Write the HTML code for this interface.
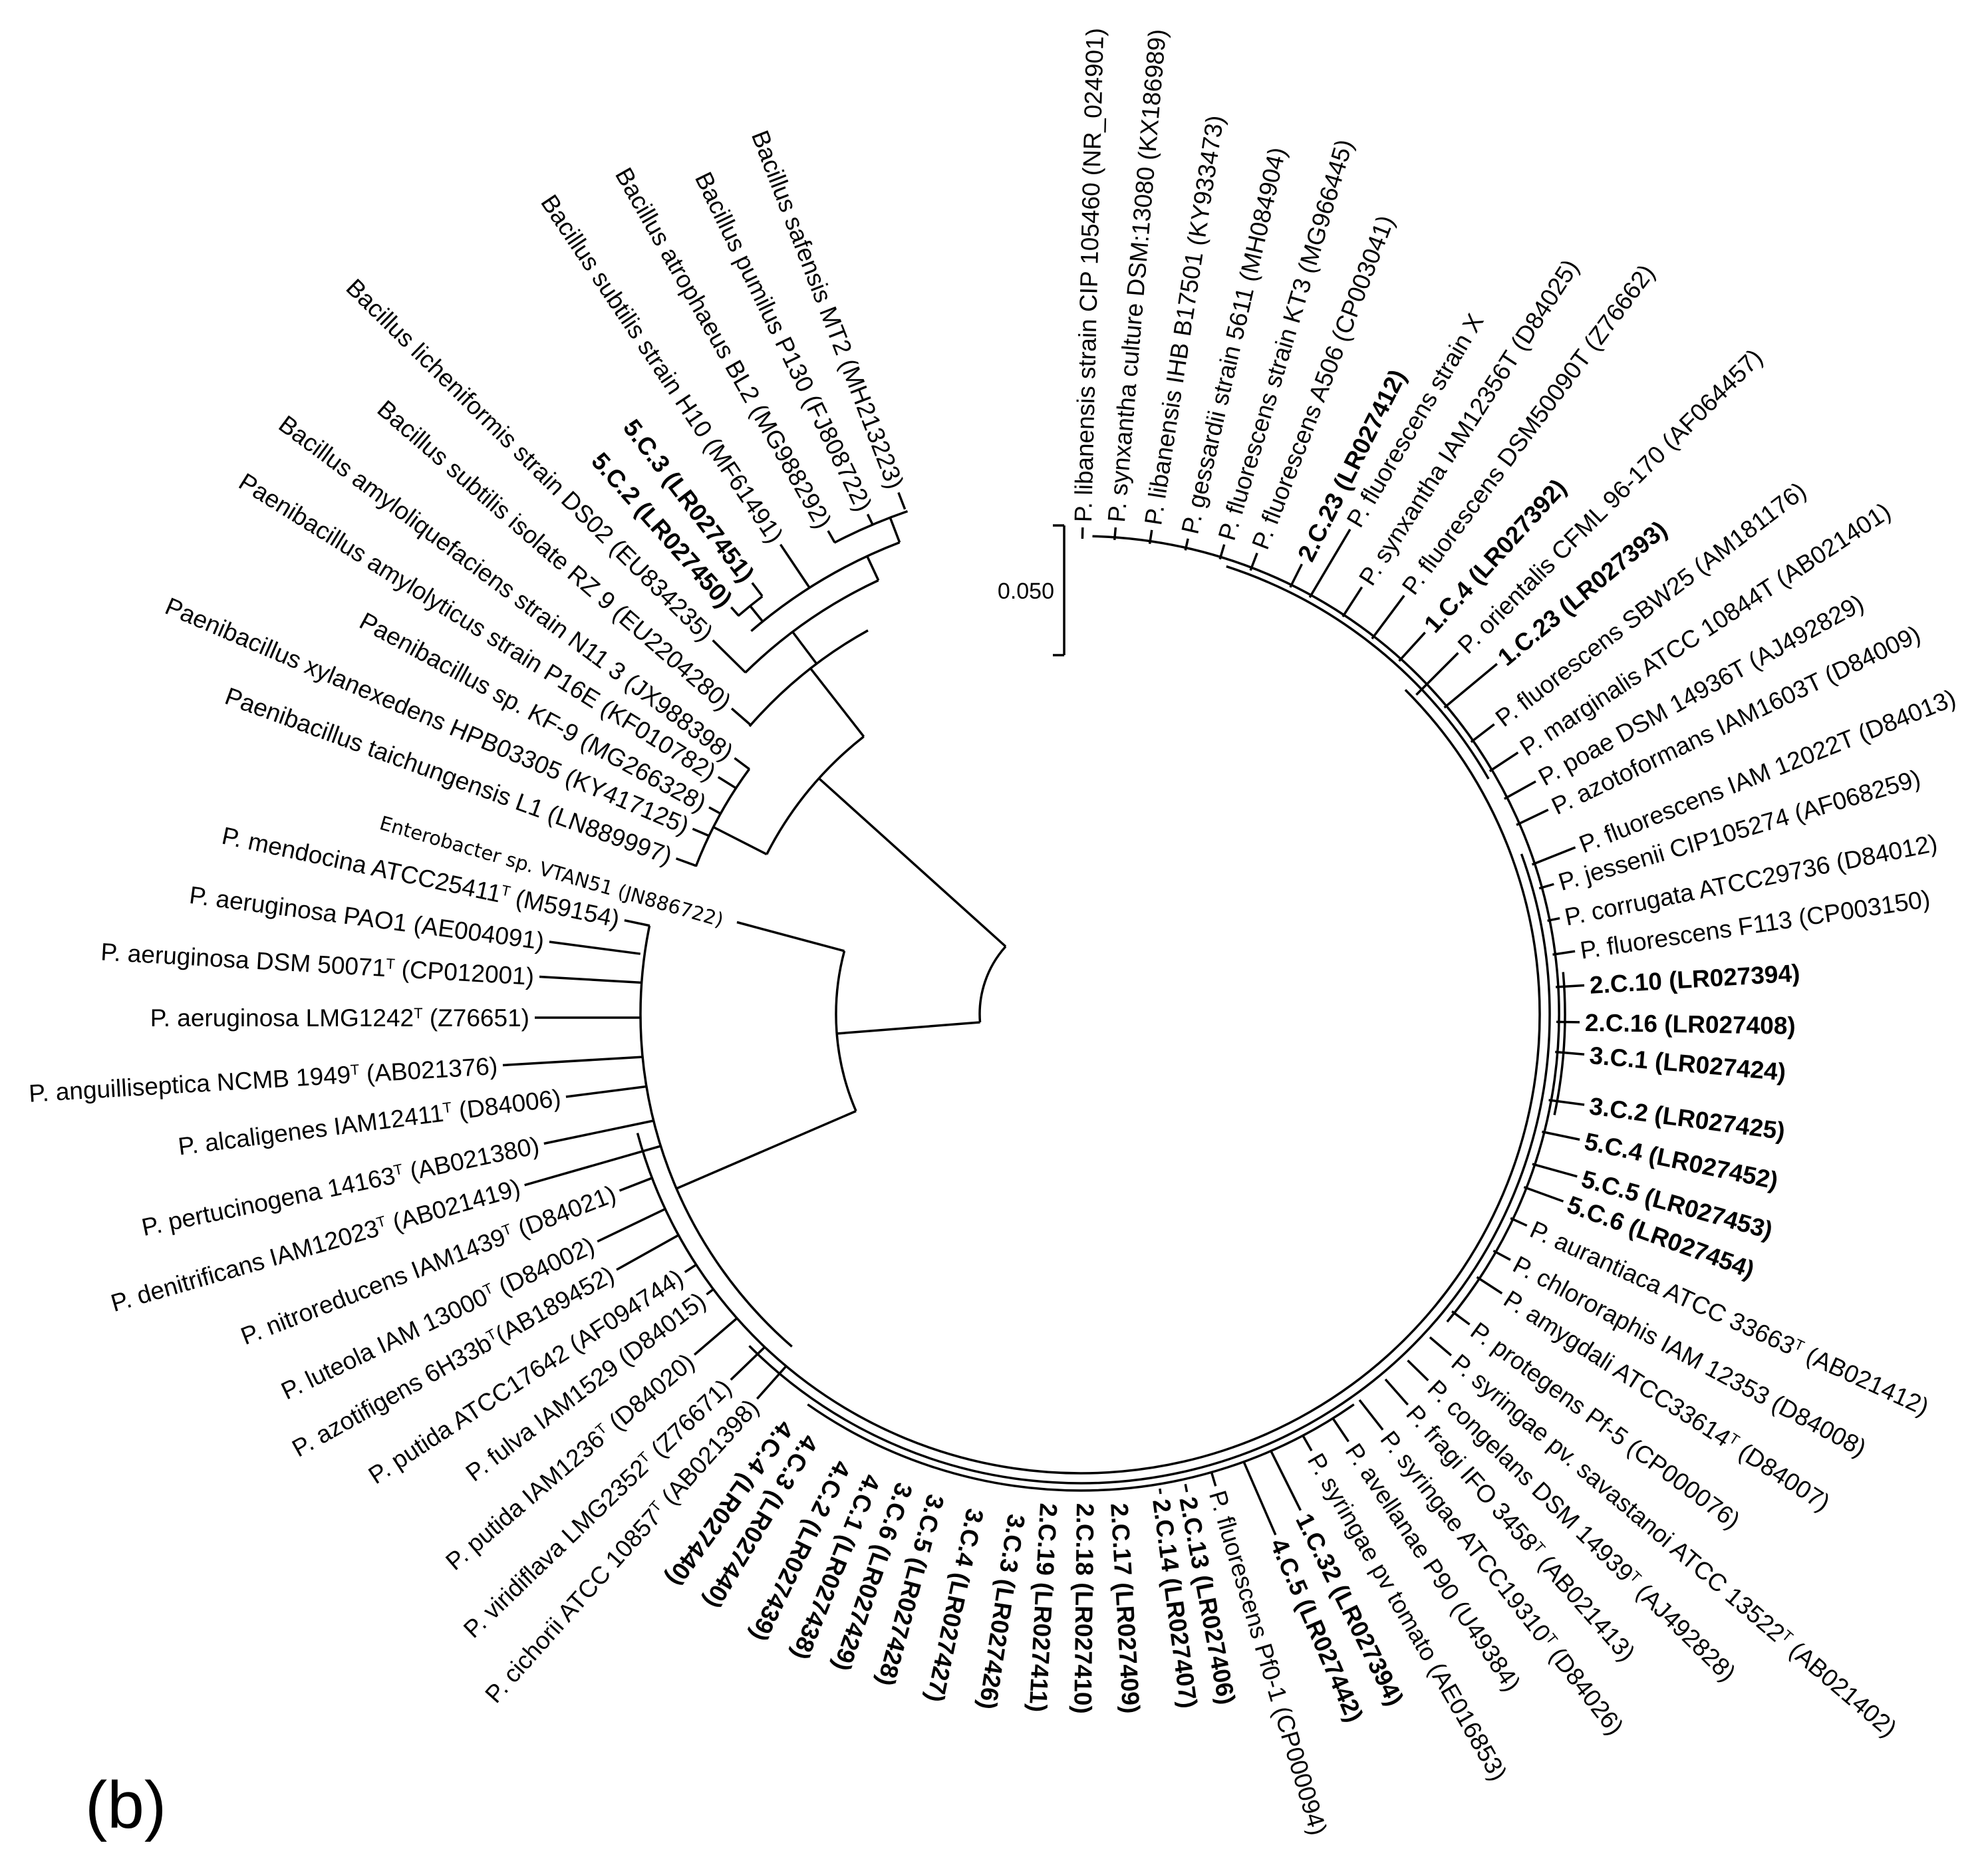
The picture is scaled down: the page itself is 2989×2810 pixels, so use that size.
<!DOCTYPE html>
<html><head><meta charset="utf-8"><style>
html,body{margin:0;padding:0;background:#fff}
svg{display:block}
text{font-family:"Liberation Sans",Arial,sans-serif;font-size:37px;fill:#000}
.b{font-weight:bold}
.e{font-family:"DejaVu Sans",sans-serif;font-size:29px}
line,path{stroke:#000;stroke-width:3.5;fill:none}
</style></head><body>
<svg width="2989" height="2810" viewBox="0 0 2989 2810" xmlns="http://www.w3.org/2000/svg">
<!-- root and stems -->
<path d="M1512,1423 A152,152 0 0 0 1473.5,1537"/>
<line x1="1512" y1="1423" x2="1231" y2="1170"/>
<line x1="1473.5" y1="1537" x2="1258" y2="1554"/>
<path d="M1269.5,1429.8 A368,368 0 0 0 1287,1670.5"/>
<line x1="1269.5" y1="1429.8" x2="1108" y2="1386.5"/>
<line x1="1287" y1="1670.5" x2="1017" y2="1787"/>
<!-- Bacillus subtree -->
<path d="M1298.7,1107.4 A530,530 0 0 0 1152.8,1284.4"/>
<line x1="1152.8" y1="1284.4" x2="1072.6" y2="1243.5"/>
<path d="M1126.6,1156.2 A620,620 0 0 0 1046.2,1302.8"/>
<line x1="1298.7" y1="1107.4" x2="1218.6" y2="1004.9"/>
<path d="M1305,947.8 A660,660 0 0 0 1126.9,1092"/>
<line x1="1227.8" y1="998" x2="1191.7" y2="950"/>
<path d="M1320.7,872.5 A720,720 0 0 0 1120.4,1011.4"/>
<line x1="1320.7" y1="872.5" x2="1303.8" y2="836.2"/>
<path d="M1352.6,815.5 A760,760 0 0 0 1129.4,948.8"/>
<line x1="1146.7" y1="934.4" x2="1127.9" y2="911.1"/>
<path d="M1146.3,896.6 A790,790 0 0 0 1109.8,926.1"/>
<line x1="1352.6" y1="815.5" x2="1338.3" y2="778.1"/>
<path d="M1364.5,768.6 A800,800 0 0 0 1254.4,816"/>
<!-- Pseudomonas backbone arcs -->
<path d="M976.5,1391.9 A662,662 0 0 0 1190.7,2024.6"/>
<path d="M958.5,1703.6 A690,690 0 1 0 2112.9,1037.1"/>
<path d="M1126.5,2023.5 A705,705 0 0 0 2287.5,1283.9"/>
<path d="M1214.3,2111.5 A716,716 0 0 0 2035.7,2111.5"/>
<path d="M2175.8,1987.2 A719,719 0 0 0 1642.5,806.2"/>
<path d="M2337.1,1676.4 A728,728 0 0 0 2350.2,1461.5"/>
<path d="M2238.1,1171 A708,708 0 0 0 1843.8,851.6"/>
<!-- scale bar -->
<line x1="1600" y1="790" x2="1600" y2="985"/>
<line x1="1583" y1="790" x2="1600" y2="790"/>
<line x1="1583" y1="985" x2="1600" y2="985"/>
<text x="1585" y="900" text-anchor="end" style="font-size:34px">0.050</text>
<text x="128" y="2748" style="font-size:100px">(b)</text>

<!-- right side labels -->
<g transform="translate(1628,785) rotate(-88.6)"><line x1="-25" x2="-8" y1="0" y2="0"/><text dy=".35em">P. libanensis strain CIP 105460 (NR_024901)</text></g>
<g transform="translate(1678,785) rotate(-85.2)"><line x1="-27" x2="-8" y1="0" y2="0"/><text dy=".35em">P. synxantha culture DSM:13080 (KX186989)</text></g>
<g transform="translate(1733,789) rotate(-81.3)"><line x1="-29" x2="-8" y1="0" y2="0"/><text dy=".35em">P. libanensis IHB B17501 (KY933473)</text></g>
<g transform="translate(1788,802) rotate(-77.1)"><line x1="-26" x2="-8" y1="0" y2="0"/><text dy=".35em">P. gessardii strain 5611 (MH084904)</text></g>
<g transform="translate(1843,811) rotate(-73.4)"><line x1="-31" x2="-8" y1="0" y2="0"/><text dy=".35em">P. fluorescens strain KT3 (MG966445)</text></g>
<g transform="translate(1893,824) rotate(-69)"><line x1="-36" x2="-8" y1="0" y2="0"/><text dy=".35em">P. fluorescens A506 (CP003041)</text></g>
<g transform="translate(1961,841) rotate(-63.3)"><line x1="-47" x2="-8" y1="0" y2="0"/><text dy=".35em" class="b">2.C.23 (LR027412)</text></g>
<g transform="translate(2034,789) rotate(-59.3)"><line x1="-127" x2="-8" y1="0" y2="0"/><text dy=".35em">P. fluorescens strain X</text></g>
<g transform="translate(2052,876) rotate(-57.1)"><line x1="-61" x2="-8" y1="0" y2="0"/><text dy=".35em">P. synxantha IAM12356T (D84025)</text></g>
<g transform="translate(2116,889) rotate(-53.3)"><line x1="-89" x2="-8" y1="0" y2="0"/><text dy=".35em">P. fluorescens DSM50090T (Z76662)</text></g>
<g transform="translate(2148,945) rotate(-47.7)"><line x1="-66" x2="-8" y1="0" y2="0"/><text dy=".35em" class="b">1.C.4 (LR027392)</text></g>
<g transform="translate(2198,976) rotate(-45)"><line x1="-97" x2="-8" y1="0" y2="0"/><text dy=".35em">P. orientalis CFML 96-170 (AF064457)</text></g>
<g transform="translate(2257,993) rotate(-39.7)"><line x1="-111" x2="-8" y1="0" y2="0"/><text dy=".35em" class="b">1.C.23 (LR027393)</text></g>
<g transform="translate(2253,1084) rotate(-37.5)"><line x1="-52" x2="-8" y1="0" y2="0"/><text dy=".35em">P. fluorescens SBW25 (AM181176)</text></g>
<g transform="translate(2289,1127) rotate(-33.4)"><line x1="-59" x2="-8" y1="0" y2="0"/><text dy=".35em">P. marginalis ATCC 10844T (AB021401)</text></g>
<g transform="translate(2316,1171) rotate(-29)"><line x1="-62" x2="-8" y1="0" y2="0"/><text dy=".35em">P. poae DSM 14936T (AJ492829)</text></g>
<g transform="translate(2335,1214) rotate(-25.6)"><line x1="-61" x2="-8" y1="0" y2="0"/><text dy=".35em">P. azotoformans IAM1603T (D84009)</text></g>
<g transform="translate(2376,1271) rotate(-21.7)"><line x1="-78" x2="-8" y1="0" y2="0"/><text dy=".35em">P. fluorescens IAM 12022T (D84013)</text></g>
<g transform="translate(2344,1327) rotate(-16.3)"><line x1="-31" x2="-8" y1="0" y2="0"/><text dy=".35em">P. jessenii CIP105274 (AF068259)</text></g>
<g transform="translate(2353,1379) rotate(-11.4)"><line x1="-27" x2="-8" y1="0" y2="0"/><text dy=".35em">P. corrugata ATCC29736 (D84012)</text></g>
<g transform="translate(2376,1429) rotate(-8.5)"><line x1="-42" x2="-8" y1="0" y2="0"/><text dy=".35em">P. fluorescens F113 (CP003150)</text></g>
<g transform="translate(2390,1481) rotate(-3.4)"><line x1="-51" x2="-8" y1="0" y2="0"/><text dy=".35em" class="b">2.C.10 (LR027394)</text></g>
<g transform="translate(2383,1537) rotate(0.9)"><line x1="-43" x2="-8" y1="0" y2="0"/><text dy=".35em" class="b">2.C.16 (LR027408)</text></g>
<g transform="translate(2390,1586) rotate(5)"><line x1="-52" x2="-8" y1="0" y2="0"/><text dy=".35em" class="b">3.C.1 (LR027424)</text></g>
<g transform="translate(2390,1662) rotate(7.5)"><line x1="-62" x2="-8" y1="0" y2="0"/><text dy=".35em" class="b">3.C.2 (LR027425)</text></g>
<g transform="translate(2383,1715) rotate(11.8)"><line x1="-66" x2="-8" y1="0" y2="0"/><text dy=".35em" class="b">5.C.4 (LR027452)</text></g>
<g transform="translate(2379,1771) rotate(15.6)"><line x1="-78" x2="-8" y1="0" y2="0"/><text dy=".35em" class="b">5.C.5 (LR027453)</text></g>
<g transform="translate(2358,1809) rotate(20)"><line x1="-71" x2="-8" y1="0" y2="0"/><text dy=".35em" class="b">5.C.6 (LR027454)</text></g>
<g transform="translate(2303,1846) rotate(24.5)"><line x1="-35" x2="-8" y1="0" y2="0"/><text dy=".35em">P. aurantiaca ATCC 33663<tspan baseline-shift="super" style="font-size:22px">T</tspan> (AB021412)</text></g>
<g transform="translate(2278,1898) rotate(28.2)"><line x1="-37" x2="-8" y1="0" y2="0"/><text dy=".35em">P. chlororaphis IAM 12353 (D84008)</text></g>
<g transform="translate(2265,1949) rotate(33)"><line x1="-53" x2="-8" y1="0" y2="0"/><text dy=".35em">P. amygdali ATCC33614<tspan baseline-shift="super" style="font-size:22px">T</tspan> (D84007)</text></g>
<g transform="translate(2216,1996) rotate(36.6)"><line x1="-41" x2="-8" y1="0" y2="0"/><text dy=".35em">P. protegens Pf-5 (CP000076)</text></g>
<g transform="translate(2188,2043) rotate(40.4)"><line x1="-50" x2="-8" y1="0" y2="0"/><text dy=".35em">P. syringae pv. savastanoi ATCC 13522<tspan baseline-shift="super" style="font-size:22px">T</tspan> (AB021402)</text></g>
<g transform="translate(2153,2081) rotate(44.3)"><line x1="-51" x2="-8" y1="0" y2="0"/><text dy=".35em">P. congelans DSM 14939<tspan baseline-shift="super" style="font-size:22px">T</tspan> (AJ492828)</text></g>
<g transform="translate(2122,2118) rotate(48.6)"><line x1="-59" x2="-8" y1="0" y2="0"/><text dy=".35em">P. fragi IFO 3458<tspan baseline-shift="super" style="font-size:22px">T</tspan> (AB021413)</text></g>
<g transform="translate(2084,2156) rotate(52)"><line x1="-65" x2="-8" y1="0" y2="0"/><text dy=".35em">P. syringae ATCC19310<tspan baseline-shift="super" style="font-size:22px">T</tspan> (D84026)</text></g>
<g transform="translate(2032,2174) rotate(56)"><line x1="-51" x2="-8" y1="0" y2="0"/><text dy=".35em">P. avellanae P90 (U49384)</text></g>
<g transform="translate(1976,2188) rotate(60)"><line x1="-35" x2="-8" y1="0" y2="0"/><text dy=".35em">P. syringae pv tomato (AE016853)</text></g>
<g transform="translate(1959,2278) rotate(63.5)"><line x1="-109" x2="-8" y1="0" y2="0"/><text dy=".35em" class="b">1.C.32 (LR027394)</text></g>
<g transform="translate(1921,2315) rotate(66.5)"><line x1="-129" x2="-8" y1="0" y2="0"/><text dy=".35em" class="b">4.C.5 (LR027442)</text></g>
<g transform="translate(1830,2242) rotate(73.4)"><line x1="-31" x2="-8" y1="0" y2="0"/><text dy=".35em">P. fluorescens Pf0-1 (CP000094)</text></g>
<g transform="translate(1786,2251) rotate(79.2)"><line x1="-20" x2="-8" y1="0" y2="0"/><text dy=".35em" class="b">2.C.13 (LR027406)</text></g>
<g transform="translate(1746,2254) rotate(82.4)"><line x1="-16" x2="-8" y1="0" y2="0"/><text dy=".35em" class="b">2.C.14 (LR027407)</text></g>
<g transform="translate(1683,2260) rotate(86.7)"><text dy=".35em" class="b">2.C.17 (LR027409)</text></g>
<g transform="translate(1632,2260) rotate(90.7)"><text dy=".35em" class="b">2.C.18 (LR027410)</text></g>
<g transform="translate(1577,2260) rotate(93)"><text dy=".35em" class="b">2.C.19 (LR027411)</text></g>
<g transform="translate(1529,2277) rotate(98.6)"><text dy=".35em" class="b">3.C.3 (LR027426)</text></g>
<g transform="translate(1467,2269) rotate(102)"><text dy=".35em" class="b">3.C.4 (LR027427)</text></g>
<g transform="translate(1408,2248) rotate(105)"><text dy=".35em" class="b">3.C.5 (LR027428)</text></g>
<g transform="translate(1361,2231) rotate(109)"><text dy=".35em" class="b">3.C.6 (LR027429)</text></g>
<g transform="translate(1313,2219) rotate(112)"><text dy=".35em" class="b">4.C.1 (LR027438)</text></g>
<g transform="translate(1269,2199) rotate(116)"><text dy=".35em" class="b">4.C.2 (LR027439)</text></g>
<g transform="translate(1221,2161) rotate(121)"><text dy=".35em" class="b">4.C.3 (LR027440)</text></g>
<g transform="translate(1185,2141) rotate(126)"><text dy=".35em" class="b">4.C.4 (LR027440)</text></g>

<!-- left side labels (anchored at inner end) -->
<g transform="translate(1348,733) rotate(68.9)"><line x1="8" x2="35" y1="0" y2="0"/><text dy=".35em" text-anchor="end">Bacillus safensis MT2 (MH213223)</text></g>
<g transform="translate(1301,766) rotate(64.1)"><line x1="8" x2="25" y1="0" y2="0"/><text dy=".35em" text-anchor="end">Bacillus pumilus P130 (FJ808722)</text></g>
<g transform="translate(1241,791) rotate(60.3)"><line x1="8" x2="28" y1="0" y2="0"/><text dy=".35em" text-anchor="end">Bacillus atrophaeus BL2 (MG988292)</text></g>
<g transform="translate(1169,812) rotate(56.1)"><line x1="8" x2="86" y1="0" y2="0"/><text dy=".35em" text-anchor="end">Bacillus subtilis strain H10 (MF61491)</text></g>
<g transform="translate(1126,870) rotate(52.5)"><line x1="8" x2="33" y1="0" y2="0"/><text dy=".35em" text-anchor="end" class="b">5.C.3 (LR027451)</text></g>
<g transform="translate(1094,907) rotate(48.3)"><line x1="8" x2="25" y1="0" y2="0"/><text dy=".35em" text-anchor="end" class="b">5.C.2 (LR027450)</text></g>
<g transform="translate(1066,957) rotate(44.6)"><line x1="8" x2="77" y1="0" y2="0"/><text dy=".35em" text-anchor="end">Bacillus licheniformis strain DS02 (EU834235)</text></g>
<g transform="translate(1094,1060) rotate(40.9)"><line x1="8" x2="46" y1="0" y2="0"/><text dy=".35em" text-anchor="end">Bacillus subtilis isolate RZ 9 (EU2204280)</text></g>
<g transform="translate(1098,1135) rotate(36.7)"><line x1="8" x2="36" y1="0" y2="0"/><text dy=".35em" text-anchor="end">Bacillus amyloliquefaciens strain N11 3 (JX988398)</text></g>
<g transform="translate(1073,1164) rotate(32)"><line x1="8" x2="40" y1="0" y2="0"/><text dy=".35em" text-anchor="end">Paenibacillus amylolyticus strain P16E (KF010782)</text></g>
<g transform="translate(1059,1210) rotate(28.5)"><line x1="8" x2="28" y1="0" y2="0"/><text dy=".35em" text-anchor="end">Paenibacillus sp. KF-9 (MG266328)</text></g>
<g transform="translate(1034,1243) rotate(23.1)"><line x1="8" x2="35" y1="0" y2="0"/><text dy=".35em" text-anchor="end">Paenibacillus xylanexedens HPB03305 (KY417125)</text></g>
<g transform="translate(1009,1288) rotate(20)"><line x1="8" x2="40" y1="0" y2="0"/><text dy=".35em" text-anchor="end">Paenibacillus taichungensis L1 (LN889997)</text></g>
<g transform="translate(1087,1384) rotate(16)"><text dy=".35em" text-anchor="end" class="e">Enterobacter sp. VTAN51 (JN886722)</text></g>
<g transform="translate(931,1382) rotate(12)"><line x1="8" x2="47" y1="0" y2="0"/><text dy=".35em" text-anchor="end">P. mendocina ATCC25411<tspan baseline-shift="super" style="font-size:22px">T</tspan> (M59154)</text></g>
<g transform="translate(818,1415) rotate(7.5)"><line x1="8" x2="146" y1="0" y2="0"/><text dy=".35em" text-anchor="end">P. aeruginosa PAO1 (AE004091)</text></g>
<g transform="translate(803,1468) rotate(3.3)"><line x1="8" x2="162" y1="0" y2="0"/><text dy=".35em" text-anchor="end">P. aeruginosa DSM 50071<tspan baseline-shift="super" style="font-size:22px">T</tspan> (CP012001)</text></g>
<g transform="translate(796,1530) rotate(0)"><line x1="8" x2="167" y1="0" y2="0"/><text dy=".35em" text-anchor="end">P. aeruginosa LMG1242<tspan baseline-shift="super" style="font-size:22px">T</tspan> (Z76651)</text></g>
<g transform="translate(748,1602) rotate(-3.4)"><line x1="8" x2="218" y1="0" y2="0"/><text dy=".35em" text-anchor="end">P. anguilliseptica NCMB 1949<tspan baseline-shift="super" style="font-size:22px">T</tspan> (AB021376)</text></g>
<g transform="translate(843,1650) rotate(-7.3)"><line x1="8" x2="130" y1="0" y2="0"/><text dy=".35em" text-anchor="end">P. alcaligenes IAM12411<tspan baseline-shift="super" style="font-size:22px">T</tspan> (D84006)</text></g>
<g transform="translate(810,1721) rotate(-11.8)"><line x1="8" x2="176" y1="0" y2="0"/><text dy=".35em" text-anchor="end">P. pertucinogena 14163<tspan baseline-shift="super" style="font-size:22px">T</tspan> (AB021380)</text></g>
<g transform="translate(781,1784) rotate(-16)"><line x1="8" x2="221" y1="0" y2="0"/><text dy=".35em" text-anchor="end">P. denitrificans IAM12023<tspan baseline-shift="super" style="font-size:22px">T</tspan> (AB021419)</text></g>
<g transform="translate(924,1793) rotate(-21.2)"><line x1="8" x2="61" y1="0" y2="0"/><text dy=".35em" text-anchor="end">P. nitroreducens IAM1439<tspan baseline-shift="super" style="font-size:22px">T</tspan> (D84021)</text></g>
<g transform="translate(891,1870) rotate(-25.6)"><line x1="8" x2="121" y1="0" y2="0"/><text dy=".35em" text-anchor="end">P. luteola IAM 13000<tspan baseline-shift="super" style="font-size:22px">T</tspan> (D84002)</text></g>
<g transform="translate(920,1913) rotate(-29.2)"><line x1="8" x2="115" y1="0" y2="0"/><text dy=".35em" text-anchor="end">P. azotifigens 6H33b<tspan baseline-shift="super" style="font-size:22px">T</tspan>(AB189452)</text></g>
<g transform="translate(1023,1917) rotate(-33.2)"><line x1="8" x2="28" y1="0" y2="0"/><text dy=".35em" text-anchor="end">P. putida ATCC17642 (AF094744)</text></g>
<g transform="translate(1056,1951) rotate(-37.3)"><line x1="8" x2="21" y1="0" y2="0"/><text dy=".35em" text-anchor="end">P. fulva IAM1529 (D84015)</text></g>
<g transform="translate(1038,2042) rotate(-40.6)"><line x1="8" x2="92" y1="0" y2="0"/><text dy=".35em" text-anchor="end">P. putida IAM1236<tspan baseline-shift="super" style="font-size:22px">T</tspan> (D84020)</text></g>
<g transform="translate(1093,2080) rotate(-43.9)"><line x1="8" x2="79" y1="0" y2="0"/><text dy=".35em" text-anchor="end">P. viridiflava LMG2352<tspan baseline-shift="super" style="font-size:22px">T</tspan> (Z76671)</text></g>
<g transform="translate(1133,2109) rotate(-48.3)"><line x1="8" x2="73" y1="0" y2="0"/><text dy=".35em" text-anchor="end">P. cichorii ATCC 10857<tspan baseline-shift="super" style="font-size:22px">T</tspan> (AB021398)</text></g>
</svg>
</body></html>
